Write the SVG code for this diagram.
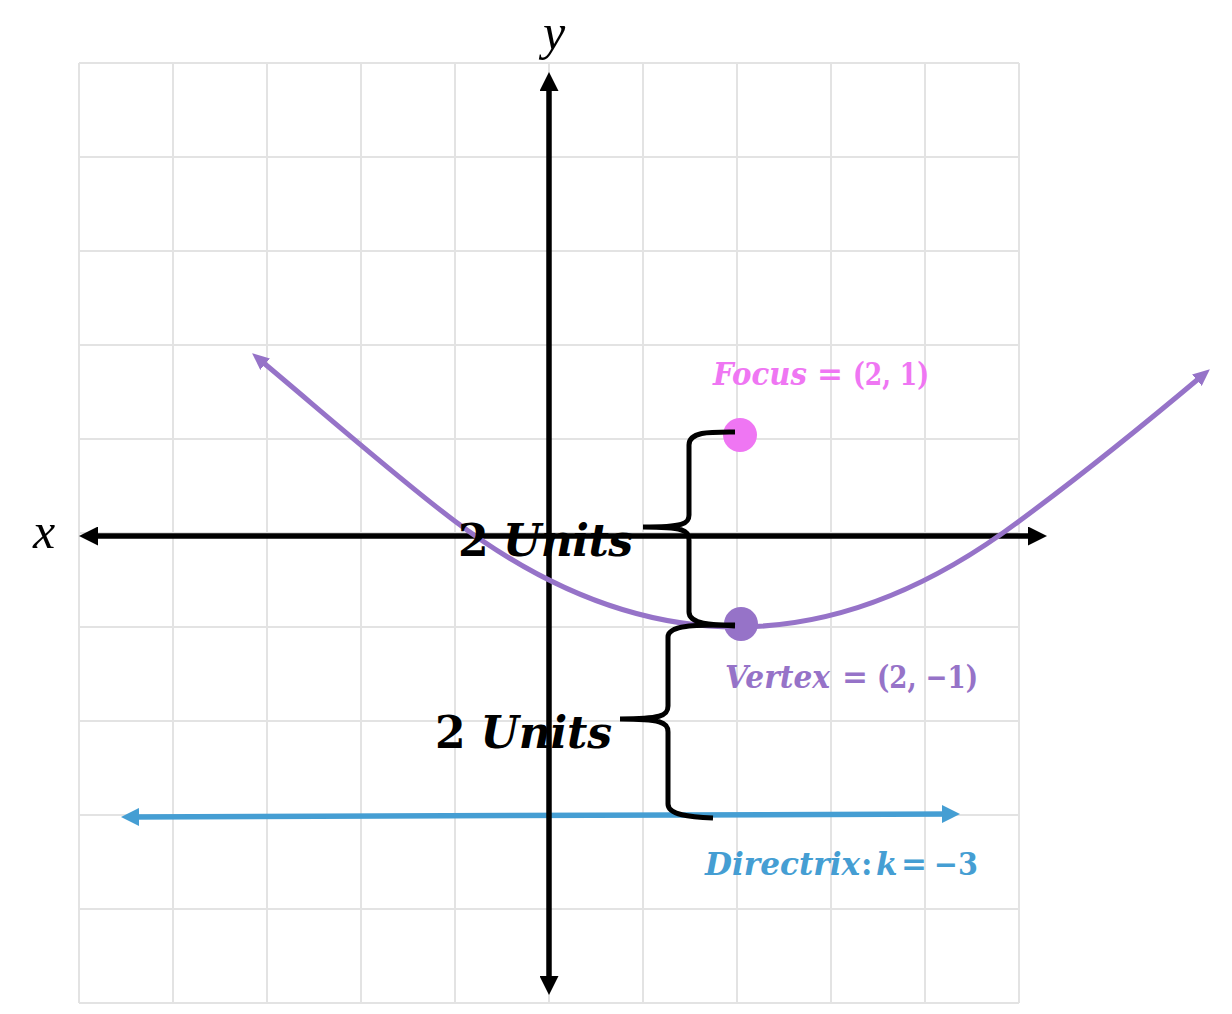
<svg xmlns="http://www.w3.org/2000/svg" width="1232" height="1014" viewBox="0 0 1232 1014">
<style>
.grid line{stroke:#E3E3E3;stroke-width:2}
.axis{stroke:#000;stroke-width:5.5;fill:none}
.dir{stroke:#459ED3;stroke-width:5.5;fill:none}
.par{stroke:#9673C8;stroke-width:5;fill:none}
.brace{stroke:#000;stroke-width:5;fill:none}
.lbl{font-family:"DejaVu Serif","Liberation Serif",serif;font-weight:bold;font-style:italic}
.up{font-style:normal}
.ax{font-family:"Liberation Serif","DejaVu Serif",serif;font-style:italic;font-size:50px;fill:#000}
</style>
<defs>
<marker id="aBlack" markerUnits="userSpaceOnUse" markerWidth="19" markerHeight="19" viewBox="0 0 19 19" refX="9" refY="9.5" orient="auto-start-reverse"><path d="M0,0 L19,9.5 L0,19 z" fill="#000"/></marker>
<marker id="aBlue" markerUnits="userSpaceOnUse" markerWidth="18" markerHeight="18" viewBox="0 0 18 18" refX="9" refY="9" orient="auto-start-reverse"><path d="M0,0 L18,9 L0,18 z" fill="#459ED3"/></marker>
<marker id="aPurple" markerUnits="userSpaceOnUse" markerWidth="17" markerHeight="15" viewBox="0 0 17 15" refX="8" refY="7.5" orient="auto-start-reverse"><path d="M0,0 L17,7.5 L0,15 z" fill="#9673C8"/></marker>
</defs>
<rect width="1232" height="1014" fill="#fff"/>
<g id="grid" class="grid">
<line x1="79" y1="63" x2="79" y2="1003"/><line x1="173" y1="63" x2="173" y2="1003"/><line x1="267" y1="63" x2="267" y2="1003"/><line x1="361" y1="63" x2="361" y2="1003"/><line x1="455" y1="63" x2="455" y2="1003"/><line x1="549" y1="63" x2="549" y2="1003"/><line x1="643" y1="63" x2="643" y2="1003"/><line x1="737" y1="63" x2="737" y2="1003"/><line x1="831" y1="63" x2="831" y2="1003"/><line x1="925" y1="63" x2="925" y2="1003"/><line x1="1019" y1="63" x2="1019" y2="1003"/>
<line x1="79" y1="63" x2="1019" y2="63"/><line x1="79" y1="157" x2="1019" y2="157"/><line x1="79" y1="251" x2="1019" y2="251"/><line x1="79" y1="345" x2="1019" y2="345"/><line x1="79" y1="439" x2="1019" y2="439"/><line x1="79" y1="533" x2="1019" y2="533"/><line x1="79" y1="627" x2="1019" y2="627"/><line x1="79" y1="721" x2="1019" y2="721"/><line x1="79" y1="815" x2="1019" y2="815"/><line x1="79" y1="909" x2="1019" y2="909"/><line x1="79" y1="1003" x2="1019" y2="1003"/>
</g>
<g id="connectors">
<path id="directrix" class="dir" d="M130,817 L951,814" marker-start="url(#aBlue)" marker-end="url(#aBlue)"/>
<path id="x-axis" class="axis" d="M89,536 L1037,536" marker-start="url(#aBlack)" marker-end="url(#aBlack)"/>
<path id="y-axis" class="axis" d="M549,82 L549,985" marker-start="url(#aBlack)" marker-end="url(#aBlack)"/>
<path id="parabola" class="par" d="M259,359 C320,410 400,480 455,521.25 Q737,732.75 1019,521.25 C1075,480 1140,428 1203,375" marker-start="url(#aPurple)" marker-end="url(#aPurple)"/>
</g>
<g id="focus"><circle cx="740" cy="435" r="17" fill="#EF76F3"/></g>
<g id="vertex"><circle cx="741" cy="624" r="17" fill="#9673C8"/></g>
<g id="brace-upper"><path class="brace" d="M735,432 C712,432 689,431 689,445 L689,515 C689,524 683,527 643,527 M643,527 C683,527 689,530 689,540 L689,612 C689,624 712,625 735,626"/></g>
<g id="brace-lower"><path class="brace" d="M735,625 C700,625 668,624 668,637 L668,706 C668,716 660,719 620,719 M620,719 C660,719 668,722 668,732 L668,804 C668,815 690,817 713,818"/></g>
<g id="label-units-upper"><text class="lbl" x="458" y="556" font-size="44" fill="#000" textLength="175" lengthAdjust="spacing"><tspan class="up">2 </tspan>Units</text></g>
<g id="label-units-lower"><text class="lbl" x="435" y="748" font-size="44" fill="#000" textLength="177" lengthAdjust="spacing"><tspan class="up">2 </tspan>Units</text></g>
<g id="label-focus" class="lbl" font-size="31" fill="#EF76F3">
<text x="713" y="385" textLength="94" lengthAdjust="spacingAndGlyphs">Focus</text>
<text class="up" x="817" y="385">=</text>
<text class="up" x="853" y="385" textLength="76" lengthAdjust="spacingAndGlyphs">(2, 1)</text>
</g>
<g id="label-vertex" class="lbl" font-size="31" fill="#9673C8">
<text x="725" y="688" textLength="105" lengthAdjust="spacingAndGlyphs">Vertex</text>
<text class="up" x="842" y="688">=</text>
<text class="up" x="877" y="688" textLength="101" lengthAdjust="spacingAndGlyphs">(2, −1)</text>
</g>
<g id="label-directrix" class="lbl" font-size="31" fill="#459ED3">
<text x="705" y="875" textLength="155" lengthAdjust="spacingAndGlyphs">Directrix</text>
<text class="up" x="861" y="875">:</text>
<text x="876" y="875">k</text>
<text class="up" x="901" y="875">=</text>
<text class="up" x="934" y="875" textLength="44" lengthAdjust="spacingAndGlyphs">−3</text>
</g>
<g id="axis-labels">
<text class="ax" x="33" y="548">x</text>
<text class="ax" x="543" y="49">y</text>
</g>
</svg>
